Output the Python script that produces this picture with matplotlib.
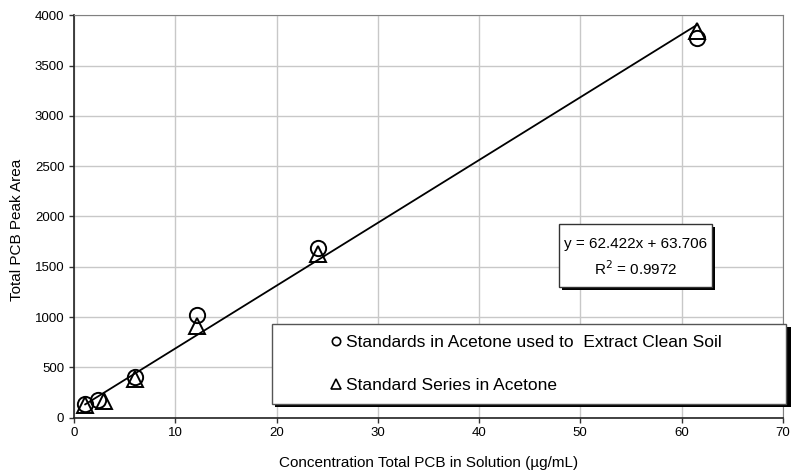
import numpy as np
import matplotlib
matplotlib.use("Agg")
import matplotlib.pyplot as plt
from matplotlib.patches import Rectangle
from matplotlib.lines import Line2D

plt.rcParams['font.family'] = ['Liberation Sans', 'DejaVu Sans']

# ---------- data ----------
soil_x = [1.1, 2.4, 6.0, 12.1, 24.1, 61.5]
soil_y = [135, 175, 400, 1025, 1685, 3775]
acetone_x = [1.1, 3.0, 6.0, 12.1, 24.1, 61.5]
acetone_y = [130, 165, 380, 910, 1630, 3840]
slope, intercept, r2 = 62.422, 63.706, 0.9972

x_ticks = [0, 10, 20, 30, 40, 50, 60, 70]
y_ticks = [0, 500, 1000, 1500, 2000, 2500, 3000, 3500, 4000]
soil_label = "Standards in Acetone used to  Extract Clean Soil"
acetone_label = "Standard Series in Acetone"

# ---------- figure ----------
fig = plt.figure(figsize=(7.91, 4.74), dpi=100)
ax = fig.add_axes([0.0936, 0.1188, 0.896, 0.849])

ax.set_xlim(0, 70)
ax.set_ylim(0, 4000)
ax.set_xticks(x_ticks)
ax.set_yticks(y_ticks)
ax.grid(True, color='#c8c8c8', lw=1)
ax.set_axisbelow(True)
ax.tick_params(direction='out', length=3.5, width=1, labelsize=9.5, color='#333333')
for s in ['top', 'right']:
    ax.spines[s].set_color('#808080')
for s in ['left', 'bottom']:
    ax.spines[s].set_color('#222222')
    ax.spines[s].set_linewidth(1.2)

# trend line
xl = np.array([min(soil_x), max(soil_x)])
ax.plot(xl, slope * xl + intercept, color='black', lw=1.3, zorder=3)

ax.plot(soil_x, soil_y, 'o', ms=11, mfc='none', mec='black', mew=1.4, zorder=4)
ax.plot(acetone_x, acetone_y, '^', ms=12, mfc='none', mec='black', mew=1.4, zorder=4)

ax.set_xlabel("Concentration Total PCB in Solution (\u00b5g/mL)", fontsize=11, labelpad=12)
ax.set_ylabel("Total PCB Peak Area", fontsize=11)
ax.yaxis.set_label_coords(-0.07, 0.466)

# ---------- equation box ----------
W, H = 791.0, 474.0
def frect(x0, y0, x1, y1, **kw):
    # pixel coords (top-left origin) -> figure rectangle
    return Rectangle((x0 / W, 1 - y1 / H), (x1 - x0) / W, (y1 - y0) / H,
                     transform=fig.transFigure, clip_on=False, **kw)

fig.patches.append(frect(562, 227, 715, 290, facecolor='black', edgecolor='none', zorder=5))
fig.patches.append(frect(559, 224, 712, 287, facecolor='white', edgecolor='#333333', lw=1, zorder=6))
fig.text(636 / W, 1 - 244 / H, f"y = {slope}x + {intercept}", ha='center', va='center',
         fontsize=11, zorder=7)
fig.text(636 / W, 1 - 269 / H, f"R$^2$ = {r2}", ha='center', va='center',
         fontsize=11, zorder=7)

# ---------- legend box ----------
fig.patches.append(frect(275, 327, 791, 407, facecolor='black', edgecolor='none', zorder=5))
fig.patches.append(frect(272, 324, 786, 404, facecolor='white', edgecolor='#555555', lw=1, zorder=6))
handles = [Line2D([], [], marker='o', ls='none', ms=6, mfc='none', mec='black', mew=1.2),
           Line2D([], [], marker='^', ls='none', ms=7, mfc='none', mec='black', mew=1.2)]
leg = fig.legend(handles, [soil_label, acetone_label], loc='center left',
                 bbox_to_anchor=(320 / W, 1 - 364 / H), frameon=False, fontsize=12.5,
                 handlelength=0.8, handletextpad=0.2, labelspacing=1.6, borderpad=0)
leg.set_zorder(8)

fig.savefig("out.png", dpi=100)
